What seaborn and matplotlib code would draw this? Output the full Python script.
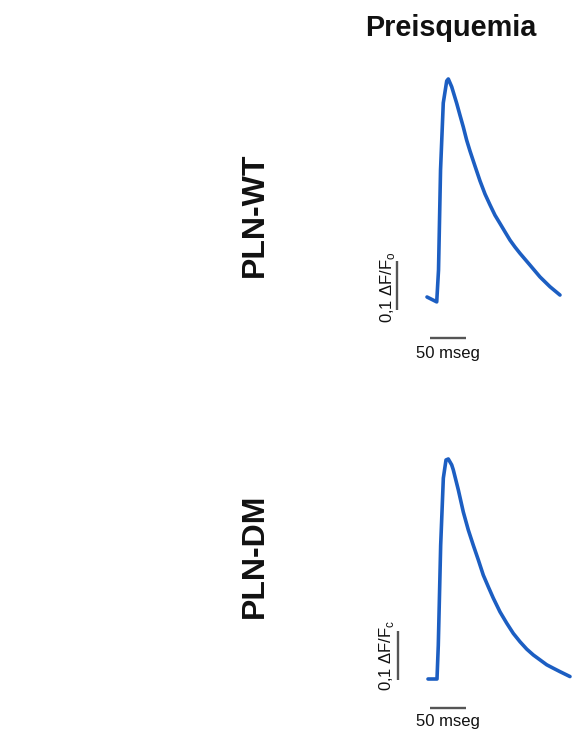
import matplotlib
matplotlib.use("Agg")
import matplotlib.pyplot as plt
import pandas as pd
import seaborn as sns

# Preischemia Ca2+ transients: time (ms) vs. normalised fluorescence (ΔF/F0)
wt_time = [0, 13.5, 16.0, 18.8, 22.6, 27.4, 29.6, 34.3, 41.3, 45.8, 50.4, 55.1,
           59.7, 66.7, 73.6, 80.6, 87.5, 94.4, 101.4, 108.3, 115.3, 122.2, 129.2,
           143.1, 156.9, 170.8, 184.7]
wt_signal = [0.000, -0.010, 0.055, 0.259, 0.396, 0.441, 0.445, 0.429, 0.395, 0.371,
             0.347, 0.320, 0.298, 0.267, 0.237, 0.210, 0.188, 0.167, 0.150, 0.133,
             0.116, 0.102, 0.089, 0.065, 0.041, 0.021, 0.004]

dm_time = [0, 12.5, 14.3, 17.6, 21.3, 25.0, 28.2, 32.9, 35.1, 42.1, 49.0, 56.0,
           62.9, 69.9, 76.8, 83.8, 90.7, 100.0, 109.3, 118.5, 127.8, 137.1, 146.3,
           155.6, 164.9, 174.0, 183.3, 197.2]
dm_signal = [0.000, 0.000, 0.069, 0.273, 0.410, 0.447, 0.449, 0.437, 0.427, 0.386,
             0.341, 0.304, 0.273, 0.243, 0.212, 0.188, 0.165, 0.137, 0.114, 0.093,
             0.076, 0.061, 0.049, 0.039, 0.029, 0.022, 0.015, 0.005]

groups = ["PLN-WT", "PLN-DM"]
title = "Preisquemia"
time_bar = 50        # ms
amp_bar = 0.1        # ΔF/F0
time_bar_label = "50 mseg"
amp_bar_labels = [r"0,1 ΔF/F$_\mathregular{o}$", r"0,1 ΔF/F$_\mathregular{c}$"]

sns.set_theme(style="white")
plt.rcParams["font.family"] = ["Liberation Sans", "DejaVu Sans"]
plt.rcParams["mathtext.fontset"] = "custom"
plt.rcParams["mathtext.rm"] = "Liberation Sans"

W, H = 582, 731
fig = plt.figure(figsize=(W / 100, H / 100), dpi=100)
fig.patch.set_facecolor("white")

ms_per_px = 50 / 36.0
amp_per_px = 0.1 / 49.0

# panel layout: (left px, top px, bottom px, x of t=0 px, y of baseline px)
panels = [
    dict(left=360, top=60, bottom=365, x0=427, y0=297,
         vbar=(-41.0, -0.0265), hbar=(4.2, -0.0843),
         vlab=(-54.2, 0.0194), hlab=(29.6, -0.115),
         glabel_y=215),
    dict(left=360, top=430, bottom=731, x0=428, y0=679,
         vbar=(-41.25, -0.002), hbar=(2.8, -0.0586),
         vlab=(-57.2, 0.049), hlab=(28.2, -0.087),
         glabel_y=556),
]
traces = [(wt_time, wt_signal), (dm_time, dm_signal)]

trace_color = "#1c5ec2"
bar_color = "#555555"
text_color = "#111111"

for i, (p, (t, s)) in enumerate(zip(panels, traces)):
    ax = fig.add_axes([p["left"] / W, 1 - p["bottom"] / H,
                       (W - p["left"]) / W, (p["bottom"] - p["top"]) / H])
    ax.set_xlim((p["left"] - p["x0"]) * ms_per_px, (W - p["x0"]) * ms_per_px)
    ax.set_ylim((p["y0"] - p["bottom"]) * amp_per_px, (p["y0"] - p["top"]) * amp_per_px)
    ax.set_axis_off()

    df = pd.DataFrame({"time": t, "signal": s})
    sns.lineplot(data=df, x="time", y="signal", ax=ax, color=trace_color,
                 linewidth=2.6, sort=False, estimator=None,
                 solid_joinstyle="round", solid_capstyle="round")

    # calibration bars
    vx, vy = p["vbar"]
    ax.plot([vx, vx], [vy, vy + amp_bar], color=bar_color, lw=1.7,
            solid_capstyle="butt")
    hx, hy = p["hbar"]
    ax.plot([hx, hx + time_bar], [hy, hy], color=bar_color, lw=1.7,
            solid_capstyle="butt")
    ax.text(*p["vlab"], amp_bar_labels[i], rotation=90, ha="center", va="center",
            fontsize=12, color=text_color)
    ax.text(*p["hlab"], time_bar_label, ha="center", va="center",
            fontsize=12, color=text_color)

    fig.text(255 / W, 1 - p["glabel_y"] / H, groups[i], rotation=90,
             ha="center", va="center", fontsize=23, fontweight="bold",
             color=text_color)

fig.text(451 / W, 1 - 28 / H, title, ha="center", va="center",
         fontsize=20.8, fontweight="bold", color=text_color)

fig.savefig("out.png", dpi=100, facecolor="white")
